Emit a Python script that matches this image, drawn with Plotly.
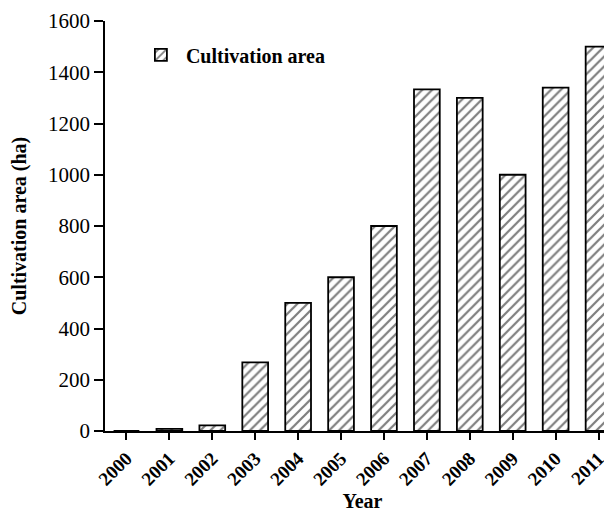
import plotly.graph_objects as go

years = ["2000", "2001", "2002", "2003", "2004", "2005", "2006", "2007", "2008", "2009", "2010", "2011"]
area = [0, 8, 22, 268, 500, 600, 800, 1333, 1300, 1000, 1340, 1500]
y_ticks = [0, 200, 400, 600, 800, 1000, 1200, 1400, 1600]

font_family = "Liberation Serif"

fig = go.Figure()
fig.add_trace(go.Bar(
    x=years, y=area, name="<b>Cultivation area</b>",
    width=0.6,
    marker=dict(color="white", line=dict(color="black", width=1.8),
                pattern=dict(shape="/", fgcolor="black", bgcolor="white", size=7, solidity=0.32)),
))

fig.update_layout(
    width=612, height=512,
    margin=dict(l=97, r=0, t=13, b=89),
    plot_bgcolor="white", paper_bgcolor="white",
    font=dict(family=font_family, color="black", size=20),
    showlegend=True,
    legend=dict(x=0.06, y=0.965, xanchor="left", yanchor="top",
                font=dict(size=20, family=font_family), bgcolor="rgba(0,0,0,0)",
                itemwidth=40),
    bargap=0.4,
)
fig.update_xaxes(
    type="category", range=[-0.5, 11.5],
    showline=True, linecolor="black", linewidth=1.8,
    ticks="outside", ticklen=7, tickwidth=1.8, tickcolor="black",
    tickangle=-45, tickfont=dict(size=19, family=font_family),
    tickprefix="<b>", ticksuffix="</b>",
    title=dict(text="<b>Year</b>", font=dict(size=20, family=font_family), standoff=2),
    showgrid=False, zeroline=False,
)
fig.update_yaxes(
    range=[0, 1600], tickvals=y_ticks,
    showline=True, linecolor="black", linewidth=1.8,
    ticks="outside", ticklen=9, tickwidth=1.8, tickcolor="black",
    tickfont=dict(size=21, family=font_family),
    tickprefix="<b>", ticksuffix="</b>",
    title=dict(text="<b>Cultivation area (ha)</b>", font=dict(size=20, family=font_family), standoff=16),
    showgrid=False, zeroline=False,
)

fig.write_html("out.html")
